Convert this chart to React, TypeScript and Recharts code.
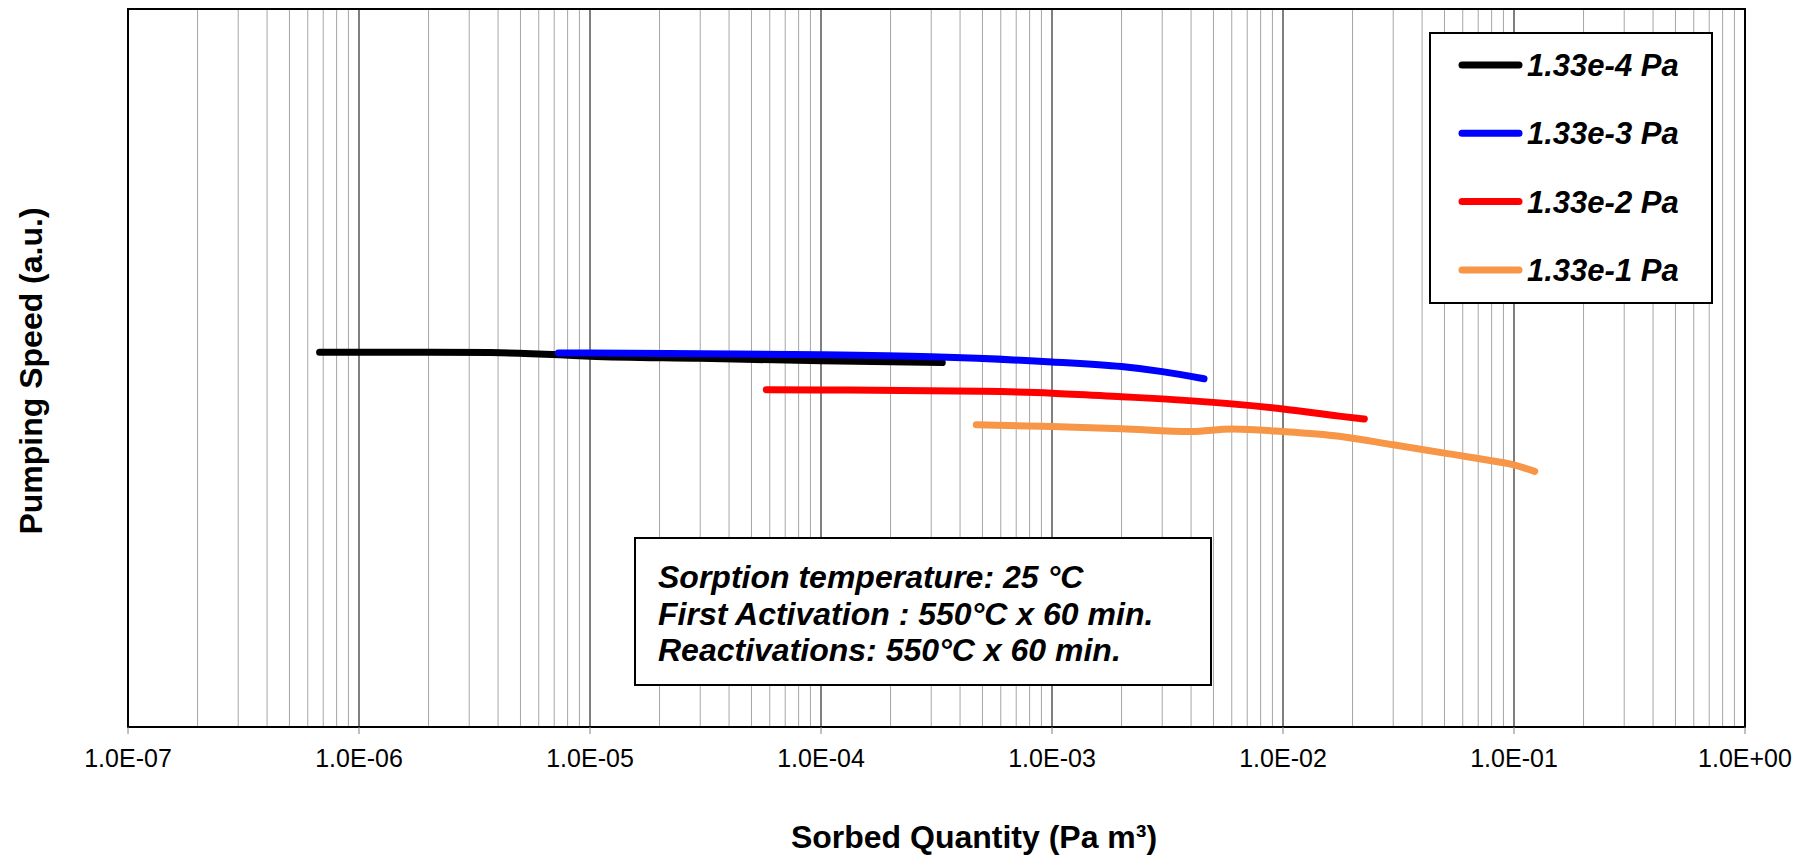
import { LineChart, Line, XAxis, YAxis, ReferenceLine, ReferenceArea, Legend } from "recharts";

const FONT = "'Liberation Sans', Arial, Helvetica, sans-serif";

// series names / colours
const seriesNames = ["1.33e-4 Pa", "1.33e-3 Pa", "1.33e-2 Pa", "1.33e-1 Pa"];
const seriesColors = ["#000000", "#0000ff", "#ff0000", "#f79646"];

// sorbed quantity (Pa m3) and pumping speed (a.u.)
const q4 = [6.75e-7, 1.5e-6, 3.7e-6, 7.4e-6, 1.0e-5, 3.0e-5, 1.0e-4, 3.35e-4];
const s4 = [52.2, 52.2, 52.15, 51.85, 51.65, 51.35, 51.0, 50.75];

const q3 = [7.3e-6, 1.0e-5, 3.0e-5, 1.0e-4, 3.0e-4, 1.0e-3, 2.0e-3, 3.0e-3, 4.55e-3];
const s3 = [52.1, 52.08, 52.0, 51.85, 51.55, 50.85, 50.2, 49.5, 48.5];

const q2 = [5.8e-5, 1.0e-4, 5.0e-4, 1.0e-3, 2.0e-3, 3.0e-3, 1.0e-2, 1.75e-2, 2.25e-2];
const s2 = [46.97, 46.95, 46.75, 46.5, 46.0, 45.7, 44.3, 43.3, 42.9];

const q1 = [4.7e-4, 1.0e-3, 2.0e-3, 4.0e-3, 6.0e-3, 1.0e-2, 1.75e-2, 3.0e-2, 5.0e-2, 7.1e-2, 1.0e-1, 1.23e-1];
const s1 = [42.1, 41.85, 41.55, 41.15, 41.5, 41.15, 40.5, 39.3, 38.15, 37.35, 36.5, 35.6];

const xTicks = [1e-7, 1e-6, 1e-5, 1e-4, 1e-3, 1e-2, 1e-1, 1];

const annotationLines = [
  "Sorption temperature: 25 °C",
  "First Activation : 550°C x 60 min.",
  "Reactivations: 550°C x 60 min.",
];

const toRows = (q: number[], s: number[]) => q.map((x, i) => ({ x, y: s[i] }));
const seriesData = [toRows(q4, s4), toRows(q3, s3), toRows(q2, s2), toRows(q1, s1)];

// log grid: minor lines 2..9 in each decade, major at decades
const minorGrid: number[] = [];
const majorGrid: number[] = [];
for (let e = -7; e < 0; e++) {
  if (e > -7) majorGrid.push(Math.pow(10, e));
  for (let m = 2; m <= 9; m++) minorGrid.push(m * Math.pow(10, e));
}

const fmtSci = (v: number) => {
  const e = Math.round(Math.log10(v));
  return `1.0E${e < 0 ? "-" : "+"}${String(Math.abs(e)).padStart(2, "0")}`;
};

function LegendBox({ payload }: any) {
  const items = [...(payload || [])].sort(
    (a: any, b: any) => seriesNames.indexOf(a.value) - seriesNames.indexOf(b.value)
  );
  return (
    <svg width={284} height={272} style={{ display: "block" }}>
      <rect x={1} y={1} width={282} height={270} fill="#fff" stroke="#000" strokeWidth={2} />
      {items.map((p: any, i: number) => {
        const cy = 33 + i * 68.3;
        return (
          <g key={p.value}>
            <line x1={33} x2={90} y1={cy} y2={cy} stroke={p.color} strokeWidth={7} strokeLinecap="round" />
            <text x={98} y={cy + 11} fontSize={31} fontWeight="bold" fontStyle="italic" fontFamily={FONT} fill="#000">
              {p.value}
            </text>
          </g>
        );
      })}
    </svg>
  );
}

export default function App() {
  return (
    <div style={{ position: "absolute", left: 0, top: 0, width: 1819, height: 858, background: "#fff" }}>
      <LineChart width={1819} height={858} margin={{ top: 9, right: 74, bottom: 0, left: 128 }}>
        {minorGrid.map((v) => (
          <ReferenceLine key={"m" + v} x={v} stroke="#a6a6a6" strokeWidth={1} zIndex={-50} />
        ))}
        {majorGrid.map((v) => (
          <ReferenceLine key={"M" + v} x={v} stroke="#000" strokeWidth={1} zIndex={-50} />
        ))}
        <XAxis
          dataKey="x"
          type="number"
          scale="log"
          domain={[1e-7, 1]}
          ticks={xTicks}
          allowDataOverflow
          tickFormatter={fmtSci}
          height={131}
          tickSize={7}
          tickMargin={15}
          axisLine={{ stroke: "#000", strokeWidth: 2 }}
          tickLine={{ stroke: "#808080" }}
          tick={{ fill: "#000", fontSize: 25, fontFamily: FONT }}
          interval={0}
        />
        <YAxis type="number" domain={[0, 100]} hide allowDataOverflow />
        <ReferenceArea x1={1e-7} x2={1} y1={0} y2={100} fill="none" stroke="#000" strokeWidth={2} />
        {seriesData.map((d, i) => (
          <Line
            key={seriesNames[i]}
            data={d}
            dataKey="y"
            name={seriesNames[i]}
            type="monotone"
            stroke={seriesColors[i]}
            strokeWidth={7}
            strokeLinecap="round"
            strokeLinejoin="round"
            dot={false}
            activeDot={false}
            isAnimationActive={false}
          />
        ))}
        <Legend
          layout="vertical"
          align="center"
          verticalAlign="middle"
          content={<LegendBox />}
          wrapperStyle={{ left: 1429, top: 32, width: 284, height: 272 }}
        />
      </LineChart>
      <svg
        width={1819}
        height={858}
        style={{ position: "absolute", left: 0, top: 0, pointerEvents: "none" }}
      >
        <text
          x={42}
          y={371}
          transform="rotate(-90, 42, 371)"
          textAnchor="middle"
          fontSize={32}
          fontWeight="bold"
          fontFamily={FONT}
          fill="#000"
        >
          Pumping Speed (a.u.)
        </text>
        <text x={974} y={848} textAnchor="middle" fontSize={32} fontWeight="bold" fontFamily={FONT} fill="#000">
          Sorbed Quantity (Pa m³)
        </text>
        <rect x={635} y={538} width={576} height={147} fill="#fff" stroke="#000" strokeWidth={2} />
        {annotationLines.map((t, i) => (
          <text
            key={t}
            x={658}
            y={588 + i * 36.5}
            fontSize={32}
            fontWeight="bold"
            fontStyle="italic"
            fontFamily={FONT}
            fill="#000"
          >
            {t}
          </text>
        ))}
      </svg>
    </div>
  );
}
